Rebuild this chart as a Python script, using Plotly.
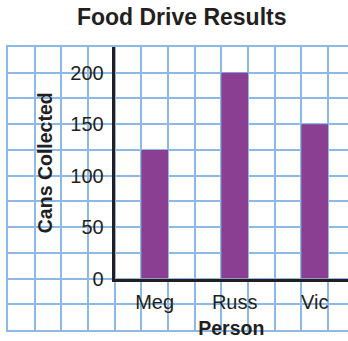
import plotly.graph_objects as go

# Food drive totals
people = ["Meg", "Russ", "Vic"]
cans = [125, 200, 150]
y_ticks = [0, 50, 100, 150, 200]

GRID = "#8cb9e7"
INK = "#231f20"
BAR = "#8b3f93"
FONT = "Liberation Sans, Arial, sans-serif"

W, H = 348, 341
CELL = 80 / 3            # one square of the graph paper, px
LEFT, TOP = 8, 46.5
PW = W - LEFT
PH = 11 * CELL

fig = go.Figure()

# empty trace so the graph-paper subplot is drawn underneath
fig.add_trace(go.Scatter(x=[], y=[], xaxis="x", yaxis="y", hoverinfo="skip"))

fig.add_trace(go.Bar(
    x=list(range(len(people))), y=cans,
    width=1 / 3, marker=dict(color=BAR, line=dict(width=0)),
    xaxis="x2", yaxis="y2", hoverinfo="skip",
))

fig.update_layout(
    width=W, height=H, autosize=False,
    margin=dict(l=LEFT, r=0, t=TOP, b=H - TOP - PH, pad=0),
    paper_bgcolor="white", plot_bgcolor="rgba(0,0,0,0)",
    showlegend=False,
    font=dict(family=FONT, color=INK, size=20),
    title=dict(
        text="<b>Food Drive Results</b>",
        font=dict(family=FONT, size=23, color=INK),
        x=181.7 / W, xref="container", xanchor="center",
        y=1 - 17 / H, yref="container", yanchor="middle",
    ),
    # graph-paper background
    xaxis=dict(
        domain=[0, 1], range=[0, PW / CELL], dtick=1, tick0=0,
        showgrid=True, gridcolor=GRID, gridwidth=1.6,
        showticklabels=False, ticks="", zeroline=False,
        showline=True, mirror=True, linecolor=GRID, linewidth=2.2,
        anchor="y", fixedrange=True,
    ),
    yaxis=dict(
        domain=[0, 1], range=[0, 11], dtick=1, tick0=0,
        showgrid=True, gridcolor=GRID, gridwidth=1.6,
        showticklabels=False, ticks="", zeroline=False,
        showline=True, mirror=False, linecolor=GRID, linewidth=2.2,
        anchor="x", fixedrange=True,
    ),
    # data axes
    xaxis2=dict(
        domain=[4 * CELL / PW, 1],
        range=[-0.5, -0.5 + (PW - 4 * CELL) / 80],
        tickmode="array", tickvals=list(range(len(people))), ticktext=people,
        showgrid=False, zeroline=False,
        showline=True, linecolor=INK, linewidth=3,
        ticks="", ticklabelstandoff=3,
        tickfont=dict(size=20, family=FONT, color=INK),
        title=dict(text="<b>Person</b>", standoff=10,
                   font=dict(size=19.5, family=FONT, color=INK)),
        anchor="y2", fixedrange=True,
    ),
    yaxis2=dict(
        domain=[2 / 11, 1], range=[0, 225],
        tickmode="array", tickvals=y_ticks,
        showgrid=False, zeroline=False,
        showline=True, linecolor=INK, linewidth=3,
        ticks="", ticklabelstandoff=4,
        tickfont=dict(size=20, family=FONT, color=INK),
        title=dict(text="<b>Cans Collected</b>", standoff=13,
                   font=dict(size=19.5, family=FONT, color=INK)),
        anchor="x2", fixedrange=True,
    ),
)

fig.write_html("out.html", config={"displayModeBar": False})
